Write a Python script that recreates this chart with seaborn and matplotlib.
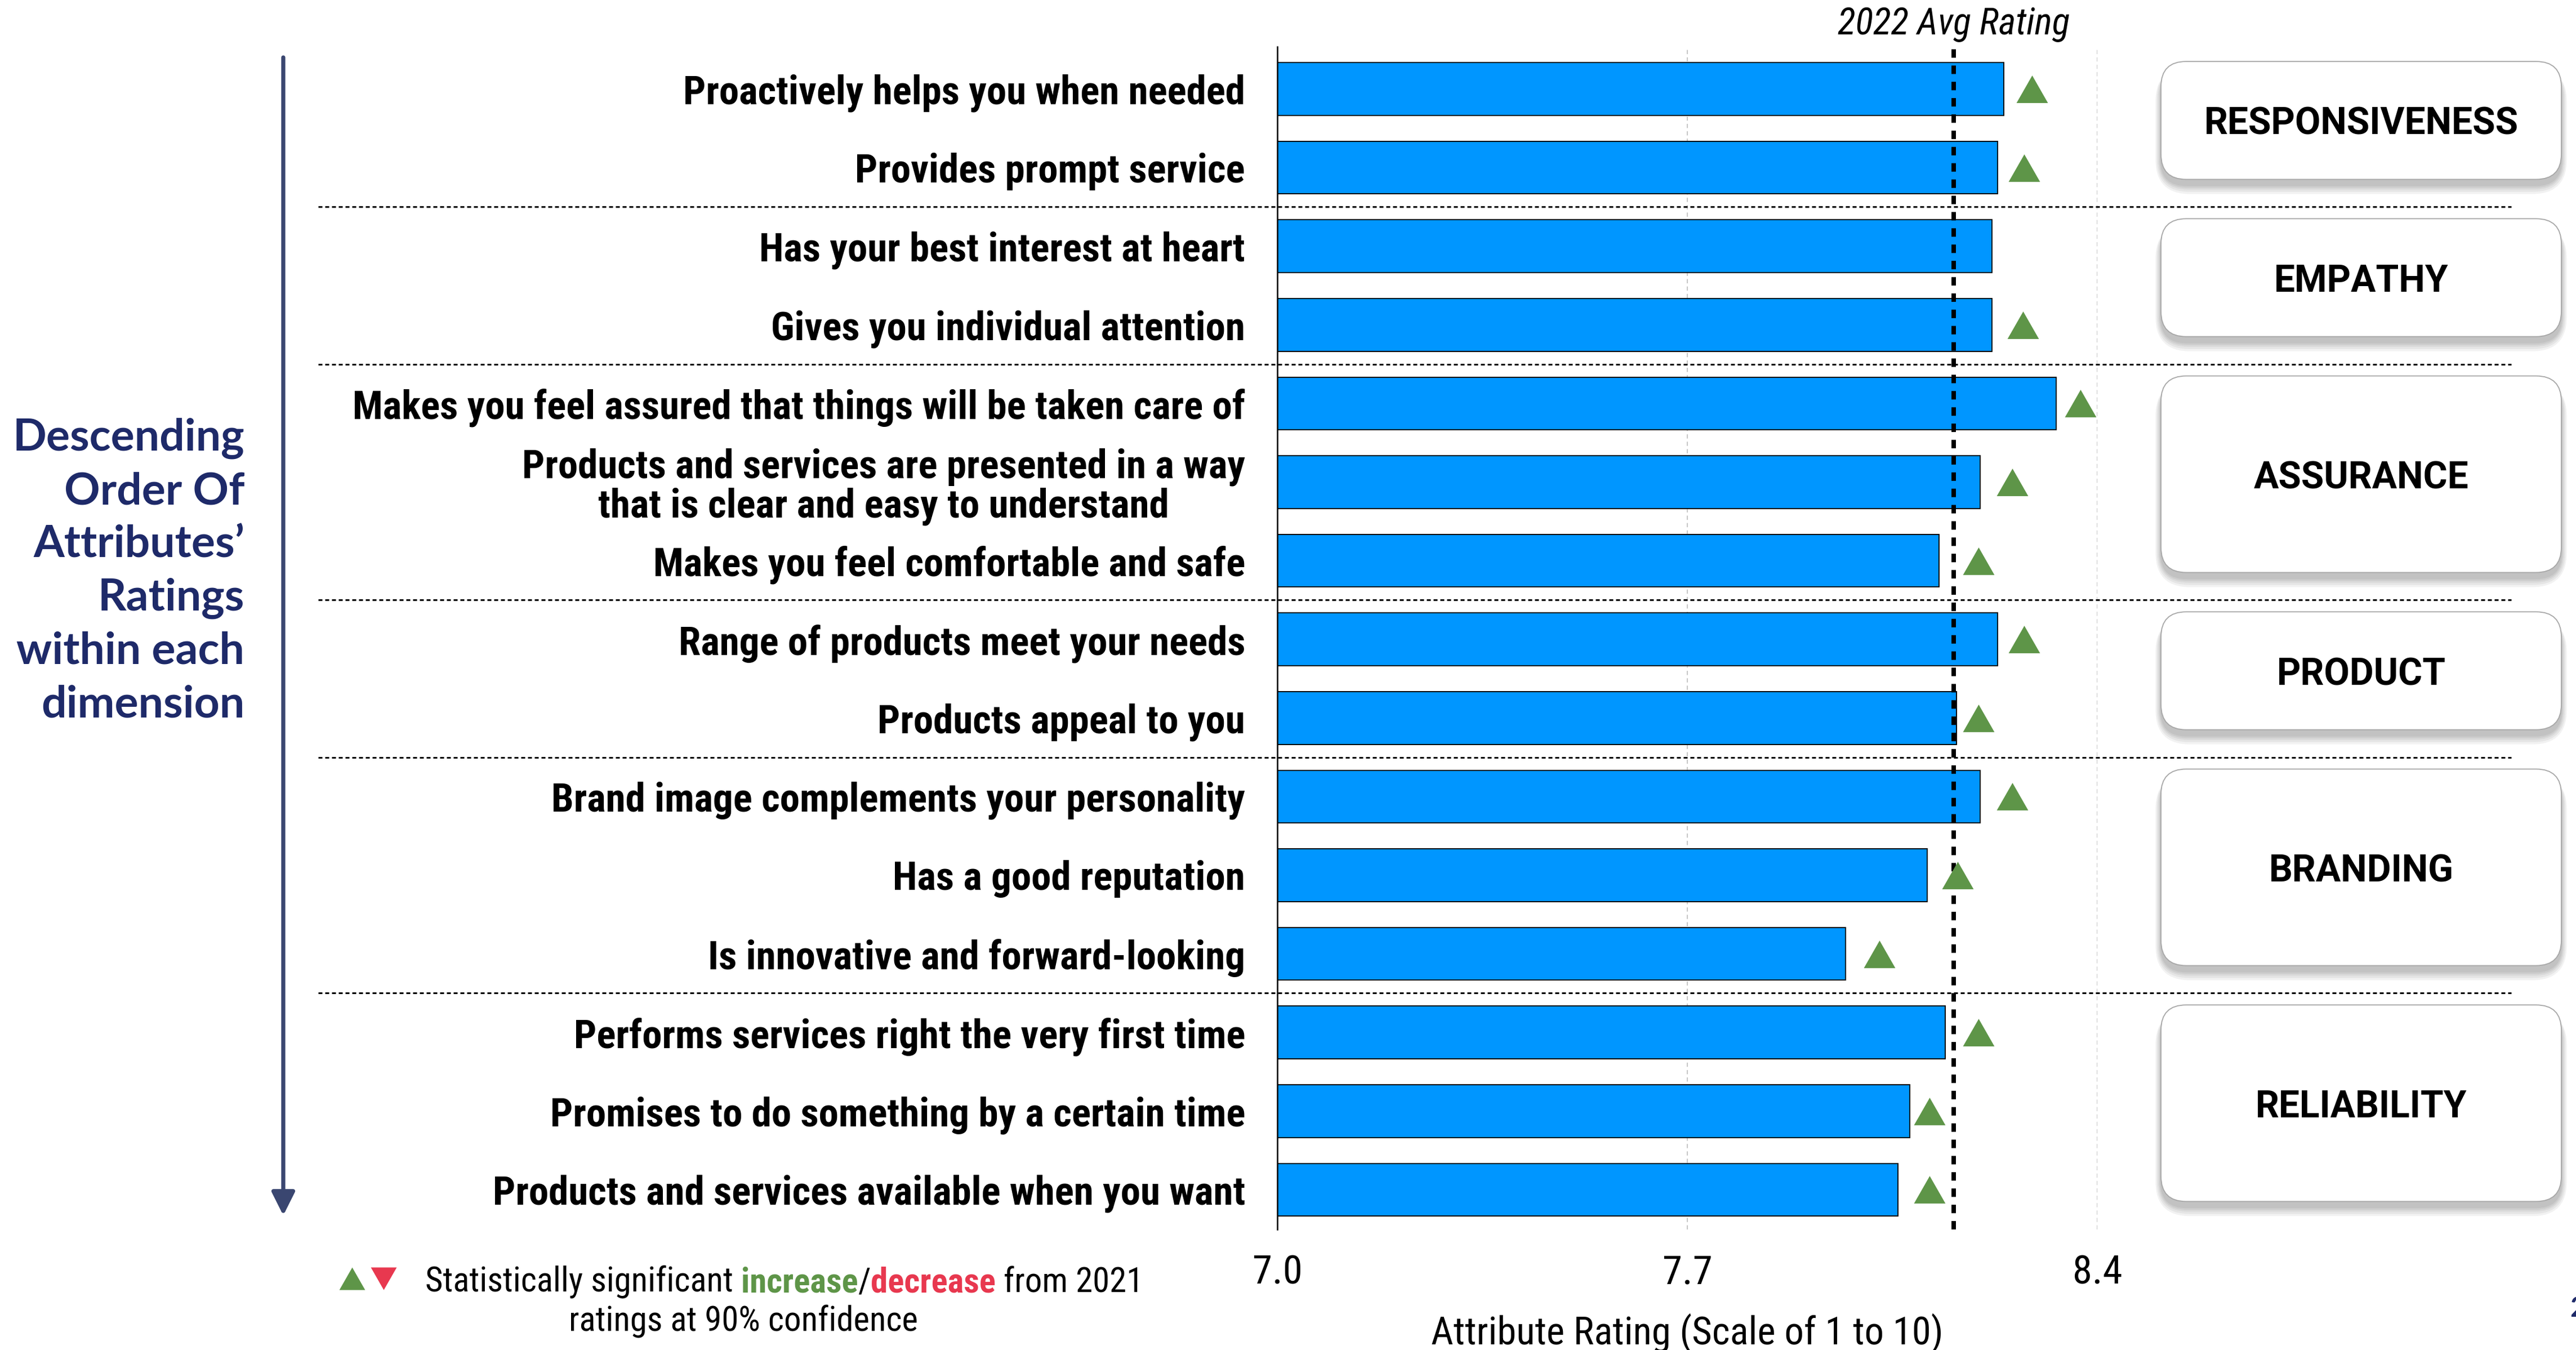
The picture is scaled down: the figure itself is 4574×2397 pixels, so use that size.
import numpy as np
import pandas as pd
import matplotlib
matplotlib.use("Agg")
import matplotlib.pyplot as plt
from matplotlib.patches import FancyBboxPatch
import seaborn as sns

# ---------------------------------------------------------------- data
attributes = [
    "Proactively helps you when needed",
    "Provides prompt service",
    "Has your best interest at heart",
    "Gives you individual attention",
    "Makes you feel assured that things will be taken care of",
    "Products and services are presented in a way\nthat is clear and easy to understand",
    "Makes you feel comfortable and safe",
    "Range of products meet your needs",
    "Products appeal to you",
    "Brand image complements your personality",
    "Has a good reputation",
    "Is innovative and forward-looking",
    "Performs services right the very first time",
    "Promises to do something by a certain time",
    "Products and services available when you want",
]
ratings = [8.24, 8.23, 8.22, 8.22, 8.33, 8.20, 8.13, 8.23, 8.16, 8.20,
           8.11, 7.97, 8.14, 8.08, 8.06]
# significance vs 2021: "up", "down" or "" (no significant change)
change = ["up", "up", "", "up", "up", "up", "up", "up", "up", "up",
          "up", "up", "up", "up", "up"]
marker_x = [8.288, 8.275, np.nan, 8.273, 8.371, 8.255, 8.197, 8.275, 8.197,
            8.255, 8.162, 8.028, 8.197, 8.113, 8.113]
dimensions = ["RESPONSIVENESS", "EMPATHY", "ASSURANCE", "PRODUCT",
              "BRANDING", "RELIABILITY"]
dimension_sizes = [2, 2, 3, 2, 3, 3]
avg_2022 = 8.155
x_ticks = [7.0, 7.7, 8.4]
x_tick_labels = ["7.0", "7.7", "8.4"]

# ---------------------------------------------------------------- style
BAR_BLUE = "#0096FF"
GREEN = "#5E9548"
RED = "#E8384F"
NAVY = "#1E2A69"
SLATE = "#3A4670"
COND = ["Roboto Condensed", "DejaVu Sans"]

sns.set_theme(style="white")
plt.rcParams["font.family"] = COND

W, H, DPI = 4574, 2397, 300
fig = plt.figure(figsize=(W / DPI, H / DPI), dpi=DPI, facecolor="white")

# main bar axes (pixel layout of the page)
ax_left, ax_right, ax_top, ax_bottom = 2268, 3724, 83, 2183
ax = fig.add_axes([ax_left / W, 1 - ax_bottom / H,
                   (ax_right - ax_left) / W, (ax_bottom - ax_top) / H])

df = pd.DataFrame({"attribute": attributes, "rating": ratings})
sns.barplot(data=df, x="rating", y="attribute", orient="h", color=BAR_BLUE,
            saturation=1, edgecolor="black", linewidth=0.45, width=0.67,
            errorbar=None, ax=ax, zorder=2)

n = len(attributes)
ax.set_xlim(7.0, 8.4)
ax.set_ylim(n - 1 + 0.506, -0.537)

ax.set_xticks(x_ticks)
ax.set_xticklabels(x_tick_labels, fontsize=17)
ax.set_yticks(range(n))
ax.set_yticklabels(attributes, fontsize=17, fontweight="bold")
for lbl in ax.get_yticklabels():
    if "\n" in lbl.get_text():
        lbl.set_multialignment("center")
        lbl.set_linespacing(1.05)
ax.tick_params(axis="x", length=0, pad=10.5, colors="black")
ax.tick_params(axis="y", length=0, pad=13.7, colors="black")

ax.grid(axis="x", color="#c4c4c4", linestyle=(0, (4, 3)), linewidth=0.45)
ax.grid(axis="y", visible=False)
ax.set_axisbelow(True)

sns.despine(ax=ax, left=False, bottom=True, top=True, right=True)
ax.spines["left"].set_color("black")
ax.spines["left"].set_linewidth(0.6)
ax.spines["left"].set_zorder(5)

ax.set_ylabel("")
ax.set_xlabel("Attribute Rating (Scale of 1 to 10)", fontsize=16.5, color="black")
ax.xaxis.set_label_coords(0.5, -(2386 - ax_bottom) / (ax_bottom - ax_top))
ax.xaxis.label.set_va("baseline")

# 2022 average reference line
ax.axvline(avg_2022, color="black", linewidth=1.9,
           linestyle=(0, (1.9, 1.75)), zorder=3)
ax.text(avg_2022, 1 + 23 / (ax_bottom - ax_top), "2022 Avg Rating",
        transform=ax.get_xaxis_transform(), ha="center", va="baseline",
        fontsize=15.8, style="italic", color="black")

# significance markers
tri_up = [(-1, -0.875), (1, -0.875), (0, 0.875)]
tri_down = [(-1, 0.875), (1, 0.875), (0, -0.875)]
rows = np.arange(n)
chg = np.array(change)
mx = np.array(marker_x, dtype=float)
for kind, verts, col in (("up", tri_up, GREEN), ("down", tri_down, RED)):
    sel = chg == kind
    if sel.any():
        ax.scatter(mx[sel], rows[sel], marker=verts, s=13.4 ** 2, color=col,
                   linewidths=0, zorder=4, clip_on=False)

# ---------------------------------------------------------------- overlay (page pixels)
ov = fig.add_axes([0, 0, 1, 1])
ov.set_xlim(0, W)
ov.set_ylim(0, H)
ov.axis("off")
ov.patch.set_alpha(0)


def row_px(r):
    return ax.transData.transform((7.0, r))[1]


starts = np.concatenate([[0], np.cumsum(dimension_sizes)[:-1]])
ends = np.cumsum(dimension_sizes) - 1

# dotted separators between dimensions
for s in starts[1:]:
    y = row_px(s - 0.5)
    ov.plot([565, 4459], [y, y], color="black", linewidth=0.72,
            linestyle=(0, (2.33, 1.67)), solid_capstyle="butt")

# dimension boxes with soft shadow
bx0, bx1 = 3837, 4548
for name, s, e in zip(dimensions, starts, ends):
    y_top = row_px(s - 0.5 + 0.15)
    y_bot = row_px(e + 0.5 - 0.35)
    h = y_top - y_bot
    for spread in (16, 12, 8, 5, 2):
        ov.add_patch(FancyBboxPatch(
            (bx0 - spread * 0.6, y_bot - 10 - spread), bx1 - bx0 + spread * 1.2,
            h + spread, boxstyle=f"round,pad=0,rounding_size={45 + spread}",
            facecolor="black", edgecolor="none", alpha=0.05, zorder=1))
    ov.add_patch(FancyBboxPatch(
        (bx0, y_bot), bx1 - bx0, h, boxstyle="round,pad=0,rounding_size=45",
        facecolor="white", edgecolor="#a8a8a8", linewidth=0.45, zorder=2))
    ov.text((bx0 + bx1) / 2, y_bot + h / 2, name, ha="center",
            va="center_baseline", fontsize=15.8, fontweight="bold",
            family=["Roboto", "DejaVu Sans"], color="black", zorder=3)

# left-hand reading guide
ov.text(434, H - 1273,
        "Descending\nOrder Of\nAttributes\u2019\nRatings\nwithin each\ndimension",
        ha="right", va="baseline", multialignment="right", fontsize=18.9,
        fontweight="bold", family=["Lato", "DejaVu Sans"], color=NAVY,
        linespacing=1.38)
ov.annotate("", xy=(503, H - 2158), xytext=(503, H - 102),
            arrowprops=dict(arrowstyle="-|>,head_length=0.42,head_width=0.21",
                            color=SLATE, linewidth=1.75, shrinkA=0, shrinkB=0,
                            mutation_scale=20))

# significance legend
ov.scatter([625], [H - 2270], marker=tri_up, s=11 ** 2, color=GREEN, linewidths=0)
ov.scatter([681], [H - 2270], marker=tri_down, s=11 ** 2, color=RED, linewidths=0)
leg_size = 14.6
t = ov.text(755, H - 2294, "Statistically significant", ha="left",
            va="baseline", fontsize=leg_size, color="black")
for chunk, col, wt in ((" increase", GREEN, "bold"), ("/", "black", "normal"),
                       ("decrease", RED, "bold"), (" from 2021", "black", "normal")):
    t = ov.annotate(chunk, xy=(1, 0), xycoords=t, ha="left", va="bottom",
                    fontsize=leg_size, color=col, fontweight=wt)
ov.text(1320, H - 2364, "ratings at 90% confidence", ha="center",
        va="baseline", fontsize=leg_size, color="black")

# page number
ov.text(4563, H - 2338, "2", ha="left", va="baseline", fontsize=11.7,
        fontweight="bold", family=["Lato", "DejaVu Sans"], color=NAVY)

fig.savefig("out.png", dpi=DPI, facecolor="white")
